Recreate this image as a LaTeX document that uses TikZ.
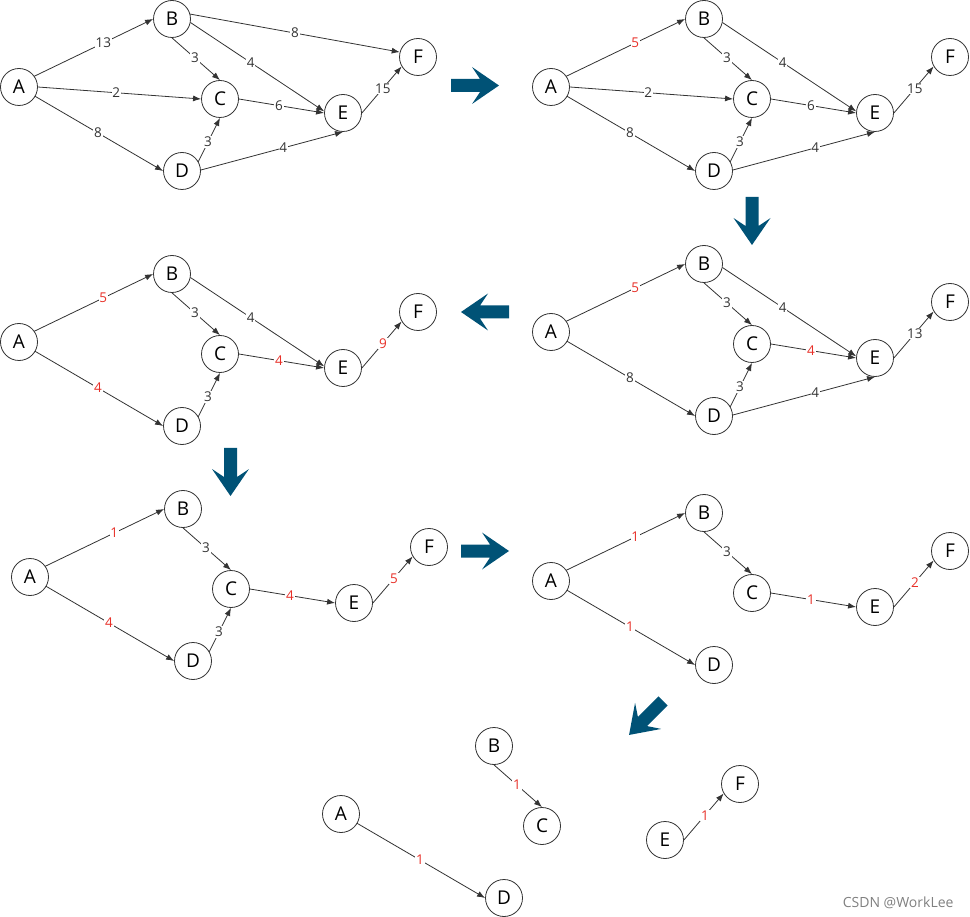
\documentclass[tikz,border=0pt]{standalone}
\usepackage{fontspec}
\setmainfont{Open Sans}
\usetikzlibrary{arrows.meta}
\definecolor{stepblue}{RGB}{0,82,118}
\definecolor{numred}{RGB}{232,48,40}
\definecolor{inkgray}{RGB}{51,51,51}
\tikzset{
 vtx/.style={circle, draw=inkgray, fill=white, line width=0.8pt, minimum size=37pt, inner sep=0pt, font=\fontsize{19}{19}\selectfont},
 edge/.style={draw=inkgray, line width=0.8pt, -{Latex[length=8pt,width=6pt]}},
 lbl/.style={fill=white, inner sep=0.8pt, text=inkgray, font=\fontsize{13.5}{13.5}\selectfont},
 rlbl/.style={lbl, text=numred},
 fat/.style={fill=stepblue, draw=none}
}
% the six vertices, same layout in every step
\newcommand{\graphnodes}[1]{%
 \node[vtx] (#1A) at (19,87) {A};
 \node[vtx] (#1B) at (172,19) {B};
 \node[vtx] (#1C) at (220,99) {C};
 \node[vtx] (#1D) at (182,171) {D};
 \node[vtx] (#1E) at (343,113) {E};
 \node[vtx] (#1F) at (418,57) {F};
}
% big step arrow: start point, direction
\newcommand{\fatarrow}[2]{%
 \fill[fat, shift={#1}, rotate=#2] (0,6.5)--(29,6.5)--(21,18.5)--(48,0)--(21,-18.5)--(29,-6.5)--(0,-6.5)--cycle;
}
\begin{document}
\begin{tikzpicture}[x=1pt, y=-1pt, line join=round, line cap=round]
 \useasboundingbox (0,0) rectangle (970,917);
 % step 1
 \begin{scope}
 \graphnodes{s1}
 \foreach \u/\a/\v/\b/\w/\p/\s in {A/35/B/180/13/.58/lbl, A/0/C/180/2/.48/lbl, A/-30/D/180/8/.49/lbl, B/-90/C/90/3/.48/lbl, B/-11/E/175/4/.45/lbl, B/15/F/165/8/.5/lbl, C/0/E/180/6/.47/lbl, D/30/C/-90/3/.45/lbl, D/3/E/-90/4/.58/lbl, E/0/F/210/15/.53/lbl}
 \draw[edge] (s1\u.\a) -- node[\s,pos=\p]{\w} (s1\v.\b);
 \end{scope}
 % step 2
 \begin{scope}[shift={(532,0)}]
 \graphnodes{s2}
 \foreach \u/\a/\v/\b/\w/\p/\s in {A/35/B/180/5/.58/rlbl, A/0/C/180/2/.48/lbl, A/-30/D/180/8/.49/lbl, B/-90/C/90/3/.48/lbl, B/-11/E/175/4/.45/lbl, C/0/E/180/6/.47/lbl, D/30/C/-90/3/.45/lbl, D/3/E/-90/4/.58/lbl, E/0/F/210/15/.53/lbl}
 \draw[edge] (s2\u.\a) -- node[\s,pos=\p]{\w} (s2\v.\b);
 \end{scope}
 % step 3
 \begin{scope}[shift={(532,245)}]
 \graphnodes{s3}
 \foreach \u/\a/\v/\b/\w/\p/\s in {A/35/B/180/5/.58/rlbl, A/-30/D/180/8/.49/lbl, B/-90/C/90/3/.48/lbl, B/-11/E/175/4/.45/lbl, C/0/E/180/4/.47/rlbl, D/30/C/-90/3/.45/lbl, D/3/E/-90/4/.58/lbl, E/0/F/210/13/.53/lbl}
 \draw[edge] (s3\u.\a) -- node[\s,pos=\p]{\w} (s3\v.\b);
 \end{scope}
 % step 4
 \begin{scope}[shift={(0,255)}]
 \graphnodes{s4}
 \foreach \u/\a/\v/\b/\w/\p/\s in {A/35/B/180/5/.58/rlbl, A/-30/D/180/4/.49/rlbl, B/-90/C/90/3/.48/lbl, B/-11/E/175/4/.45/lbl, C/0/E/180/4/.47/rlbl, D/30/C/-90/3/.45/lbl, E/0/F/210/9/.53/rlbl}
 \draw[edge] (s4\u.\a) -- node[\s,pos=\p]{\w} (s4\v.\b);
 \end{scope}
 % step 5
 \begin{scope}[shift={(11,490)}]
 \graphnodes{s5}
 \foreach \u/\a/\v/\b/\w/\p/\s in {A/35/B/180/1/.58/rlbl, A/-30/D/180/4/.49/rlbl, B/-90/C/90/3/.48/lbl, C/0/E/180/4/.47/rlbl, D/30/C/-90/3/.45/lbl, E/0/F/210/5/.53/rlbl}
 \draw[edge] (s5\u.\a) -- node[\s,pos=\p]{\w} (s5\v.\b);
 \end{scope}
 % step 6
 \begin{scope}[shift={(532,494)}]
 \graphnodes{s6}
 \foreach \u/\a/\v/\b/\w/\p/\s in {A/35/B/180/1/.58/rlbl, A/-30/D/180/1/.49/rlbl, B/-90/C/90/3/.48/lbl, C/0/E/180/1/.47/rlbl, E/0/F/210/2/.53/rlbl}
 \draw[edge] (s6\u.\a) -- node[\s,pos=\p]{\w} (s6\v.\b);
 \end{scope}
 % step 7
 \begin{scope}[shift={(322,727)}]
 \graphnodes{s7}
 \foreach \u/\a/\v/\b/\w/\p/\s in {A/-30/D/180/1/.49/rlbl, B/-90/C/90/1/.48/rlbl, E/0/F/210/1/.53/rlbl}
 \draw[edge] (s7\u.\a) -- node[\s,pos=\p]{\w} (s7\v.\b);
 \end{scope}
 % arrows between the steps
 \fatarrow{(451,85.5)}{0}
 \fatarrow{(752,197)}{-90}
 \fatarrow{(509,312)}{180}
 \fatarrow{(230.5,448)}{-90}
 \fatarrow{(461,551)}{0}
 \fatarrow{(663,701)}{225}
 \node[anchor=east, text=gray, font=\fontsize{14}{14}\selectfont] (mark) at (957,903) {CSDN @WorkLee};
\end{tikzpicture}
\end{document}
